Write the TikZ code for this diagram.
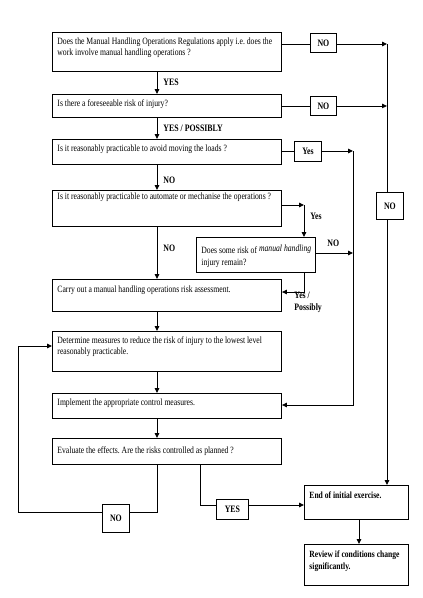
\documentclass[tikz,border=0pt]{standalone}
\usepackage{fontspec}
\setmainfont{Liberation Serif}[FakeStretch=0.8]
\usetikzlibrary{arrows.meta,calc}
\frenchspacing
\begin{document}
\begin{tikzpicture}[x=1pt,y=-1pt, line width=0.9pt,
  arr/.style={-{Triangle[length=5pt,width=4.5pt]}},
  box/.style={draw, rectangle, inner sep=0pt, anchor=north west},
  txt/.style={inner sep=0pt, anchor=north west, align=left, font=\fontsize{9.6}{11.5}\selectfont},
  btxt/.style={inner sep=0pt, anchor=north west, align=left, font=\fontsize{9.5}{12}\selectfont\bfseries},
  lbl/.style={inner sep=0pt, anchor=west, font=\fontsize{9.8}{12}\selectfont\bfseries},
  lbox/.style={draw, rectangle, inner sep=0pt, anchor=north west, font=\fontsize{9.8}{12}\selectfont\bfseries}]
\useasboundingbox (0,0) rectangle (423,598);
% main boxes
\node[box, minimum width=229pt, minimum height=39pt] (b1) at (52,32) {};
\node[box, minimum width=229pt, minimum height=23pt] (b2) at (52,94) {};
\node[box, minimum width=229pt, minimum height=25pt] (b3) at (52,139) {};
\node[box, minimum width=229pt, minimum height=36pt] (b4) at (52,190) {};
\node[box, minimum width=119pt, minimum height=35pt] (b5) at (196,237) {};
\node[box, minimum width=229pt, minimum height=32pt] (b6) at (52,279) {};
\node[box, minimum width=229pt, minimum height=40pt] (b7) at (52,331) {};
\node[box, minimum width=229pt, minimum height=25pt] (b8) at (52,393) {};
\node[box, minimum width=229pt, minimum height=26pt] (b9) at (52,438) {};
\node[box, minimum width=104pt, minimum height=34pt] (endb) at (304,485) {};
\node[box, minimum width=104pt, minimum height=41pt] (rev) at (304,544) {};
% texts
\node[txt] (t1) at ($(b1.north west)+(5,5)$) {Does the Manual Handling Operations Regulations apply i.e. does the\\ work involve manual handling operations ?};
\node[txt] (t2) at ($(b2.north west)+(5,5)$) {Is there a foreseeable risk of injury?};
\node[txt] (t3) at ($(b3.north west)+(5,5)$) {Is it reasonably practicable to avoid moving the loads ?};
\node[txt] (t4) at ($(b4.north west)+(5,2)$) {Is it reasonably practicable to automate or mechanise the operations ?};
\node[txt] (t5) at ($(b5.north west)+(5,7)$) {Does some risk of \raisebox{2pt}{\itshape manual handling}\\[1pt] injury remain?};
\node[txt] (t6) at ($(b6.north west)+(5,6)$) {Carry out a manual handling operations risk assessment.};
\node[txt] (t7) at ($(b7.north west)+(5,5)$) {Determine measures to reduce the risk of injury to the lowest level\\ reasonably practicable.};
\node[txt] (t8) at ($(b8.north west)+(5,5)$) {Implement the appropriate control measures.};
\node[txt] (t9) at ($(b9.north west)+(5,8)$) {Evaluate the effects. Are the risks controlled as planned ?};
\node[btxt] (tE) at ($(endb.north west)+(5,6)$) {End of initial exercise.};
\node[btxt] (tR) at ($(rev.north west)+(5,6)$) {Review if conditions change\\ significantly.};
% label boxes
\node[lbox, minimum width=26pt, minimum height=19pt] (no1) at (310,33) {NO};
\node[lbox, minimum width=26pt, minimum height=19pt] (no2) at (310,96) {NO};
\node[lbox, minimum width=27pt, minimum height=20pt] (yes3) at (294,141) {Yes};
\node[lbox, minimum width=27pt, minimum height=27pt] (noR) at (376,192) {NO};
\node[lbox, minimum width=27pt, minimum height=28pt] (noB) at (102,504) {NO};
\node[lbox, minimum width=32pt, minimum height=20pt] (yesB) at (216,499) {YES};
% free labels
\node[lbl] (l1) at (163,82) {YES};
\node[lbl] (l2) at (163,128) {YES / POSSIBLY};
\node[lbl] (l3) at (163,180) {NO};
\node[lbl] (l4) at (163,248) {NO};
\node[lbl] (l5) at (310,216) {Yes};
\node[lbl] (l6) at (327,243) {NO};
\node[lbl, align=left] (l7) at (294,302) {Yes /\\ Possibly};
% helper coordinates
\coordinate (ax) at (157,0);
\coordinate (rtop) at (387,44);
\coordinate (mtop) at (353,151);
\coordinate (mbot) at (353,405);
\coordinate (c45) at (304,205);
\coordinate (c56) at (304,292);
\coordinate (loopA) at (157,512);
\coordinate (loopB) at (18,512);
\coordinate (loopC) at (18,346);
\coordinate (yc) at (200,505);
\coordinate (ec) at (359,0);
% vertical main flow
\draw[arr] (b1.south -| ax) -- (b2.north -| ax);
\draw[arr] (b2.south -| ax) -- (b3.north -| ax);
\draw[arr] (b3.south -| ax) -- (b4.north -| ax);
\draw[arr] (b4.south -| ax) -- (b6.north -| ax);
\draw[arr] (b6.south -| ax) -- (b7.north -| ax);
\draw[arr] (b7.south -| ax) -- (b8.north -| ax);
\draw[arr] (b8.south -| ax) -- (b9.north -| ax);
% right NO column
\draw (b1.east |- rtop) -- (no1.west |- rtop);
\draw[arr] (no1.east |- rtop) -- (rtop);
\draw (b2.east) -- (no2.west);
\draw[arr] (no2.east) -- (no2.east -| rtop);
\draw (rtop) -- (noR.north -| rtop);
\draw[arr] (noR.south -| rtop) -- (endb.north -| rtop);
% Yes column
\draw (b3.east |- mtop) -- (yes3.west |- mtop);
\draw[arr] (yes3.east |- mtop) -- (mtop);
\draw[arr] (mtop) -- (mbot) -- (b8.east |- mbot);
\draw[arr] (b5.east |- 0,253) -- (353,253);
% automate branch
\draw[arr] (b4.east |- c45) -- (c45);
\draw[arr] (c45) -- (b5.north -| c45);
\draw[arr] (b5.south -| c56) -- (c56) -- (b6.east |- c56);
% loop back
\draw (b9.south -| loopA) -- (loopA) -- (noB.east |- loopA);
\draw[arr] (noB.west |- loopA) -- (loopB) -- (loopC) -- (b7.west |- loopC);
% YES to end
\draw (b9.south -| yc) -- (yc) -- (yesB.west |- yc);
\draw[arr] (yesB.east |- yc) -- (endb.west |- yc);
\draw[arr] (endb.south -| ec) -- (rev.north -| ec);
\end{tikzpicture}
\end{document}
